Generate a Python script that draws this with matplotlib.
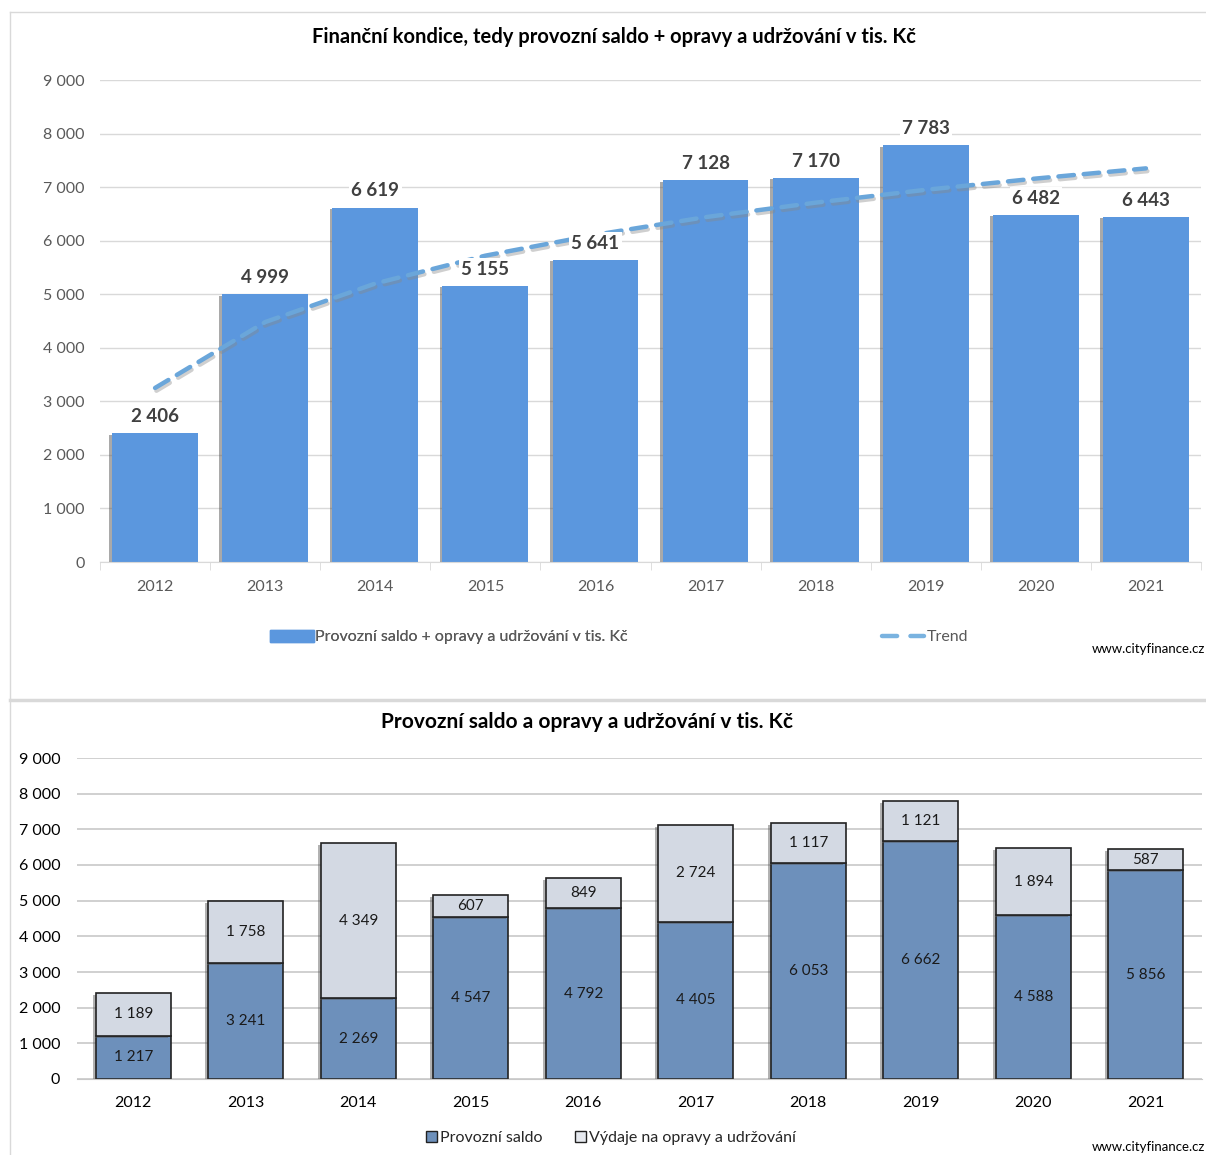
import matplotlib
matplotlib.use("Agg")
import matplotlib.pyplot as plt
import matplotlib.patheffects as pe
from matplotlib.lines import Line2D
from matplotlib.patches import Patch
import numpy as np

# ---------------------------------
# Data
# ---------------------------------
years = ["2012", "2013", "2014", "2015", "2016", "2017", "2018", "2019", "2020", "2021"]
kondice = [2406, 4999, 6619, 5155, 5641, 7128, 7170, 7783, 6482, 6443]
trend = [3250, 4480, 5200, 5720, 6110, 6440, 6710, 6950, 7160, 7350]

saldo = [1217, 3241, 2269, 4547, 4792, 4405, 6053, 6662, 4588, 5856]
opravy = [1189, 1758, 4349, 607, 849, 2724, 1117, 1121, 1894, 587]

yticks = [0, 1000, 2000, 3000, 4000, 5000, 6000, 7000, 8000, 9000]


def fmt(v):
    return f"{v:,}".replace(",", " ")


plt.rcParams.update({
    "font.family": ["Lato", "DejaVu Sans"],
    "axes.edgecolor": "#bfbfbf",
})

fig = plt.figure(figsize=(12.06, 11.55), dpi=100)
W, H = 1206, 1155


def box(l, t, r, b):
    return [l / W, 1 - b / H, (r - l) / W, (b - t) / H]


x = np.arange(len(years))

# ---------------------------------
# Top chart
# ---------------------------------
ax1 = fig.add_axes(box(100, 80, 1201, 562))
bars = ax1.bar(x, kondice, width=0.78, color="#5b97de", zorder=2)
for b in bars:
    b.set_path_effects([pe.SimplePatchShadow(offset=(-2, -1), shadow_rgbFace="#555555", alpha=0.5),
                        pe.Normal()])

ax1.plot(x, trend, color="#6aa6da", lw=3.2, dashes=(3.5, 2.2), dash_capstyle="round",
         zorder=3,
         path_effects=[pe.SimpleLineShadow(offset=(1, -2), shadow_color="#888888", alpha=0.4),
                       pe.Normal()])

for xi, v in zip(x, kondice):
    ax1.annotate(fmt(v), (xi, v), xytext=(0, 6), textcoords="offset points",
                 ha="center", va="bottom", fontsize=13.5, fontweight="bold",
                 color="#404040", zorder=5,
                 bbox=dict(boxstyle="square,pad=0.12", fc="white", ec="none"))

ax1.set_xlim(-0.5, len(years) - 0.5)
ax1.set_ylim(0, 9000)
ax1.set_yticks(yticks)
ax1.set_yticklabels([fmt(t) for t in yticks])
ax1.set_xticks(x)
ax1.set_xticklabels(years)
ax1.set_xticks(np.arange(-0.5, len(years)), minor=True)
ax1.tick_params(axis="x", which="major", length=0, pad=13, labelsize=11.5, labelcolor="#595959")
ax1.tick_params(axis="x", which="minor", length=6, color="#d9d9d9")
ax1.tick_params(axis="y", length=0, pad=11, labelsize=11.5, labelcolor="#595959")
ax1.grid(axis="y", color="#d9d9d9", lw=1, zorder=0)
ax1.set_axisbelow(True)
for s in ["top", "right", "left"]:
    ax1.spines[s].set_visible(False)
ax1.spines["bottom"].set_color("#d9d9d9")

fig.text(614 / W, 1 - 37 / H, "Finanční kondice, tedy provozní saldo + opravy a udržování v tis. Kč",
         ha="center", va="center", fontsize=14.5, fontweight="bold", color="#000000")

leg1 = fig.legend(handles=[Patch(color="#5b97de", label="Provozní saldo + opravy a udržování v tis. Kč")],
                  loc="center left", bbox_to_anchor=(256 / W, 1 - 637 / H), frameon=False,
                  fontsize=11.5, handlelength=2.7, handleheight=0.8, handletextpad=0.1,
                  labelcolor="#595959")
fig.legend(handles=[Line2D([], [], color="#7ab3e0", lw=3.2, dashes=(3.4, 3.0),
                           dash_capstyle="round", label="Trend")],
           loc="center left", bbox_to_anchor=(868 / W, 1 - 637 / H), frameon=False,
           fontsize=11.5, handlelength=2.6, handletextpad=0.2, labelcolor="#595959")
fig.add_artist(leg1)

fig.text(1205 / W, 1 - 649 / H, "www.cityfinance.cz", ha="right", va="center",
         fontsize=9.5, color="#000000")

# ---------------------------------
# Bottom chart
# ---------------------------------
ax2 = fig.add_axes(box(77, 758, 1202, 1079))
shadow = [pe.SimplePatchShadow(offset=(-2, -1.5), shadow_rgbFace="#555555", alpha=0.45), pe.Normal()]
b_low = ax2.bar(x, saldo, width=0.67, color="#6d90bb", edgecolor="#222222", lw=1.2, zorder=2)
b_up = ax2.bar(x, opravy, width=0.67, bottom=saldo, color="#d3d9e3", edgecolor="#222222", lw=1.2,
               zorder=2)
for b in list(b_low) + list(b_up):
    b.set_path_effects(shadow)

for xi, s, o in zip(x, saldo, opravy):
    ax2.text(xi, s / 2, fmt(s), ha="center", va="center", fontsize=11, color="#1a1a1a", zorder=4)
    ax2.text(xi, s + o / 2, fmt(o), ha="center", va="center", fontsize=11, color="#1a1a1a", zorder=4)

ax2.set_xlim(-0.5, len(years) - 0.5)
ax2.set_ylim(0, 9000)
ax2.set_yticks(yticks)
ax2.set_yticklabels([fmt(t) for t in yticks])
ax2.set_xticks(x)
ax2.set_xticklabels(years)
ax2.tick_params(axis="x", length=0, pad=12, labelsize=11.5, labelcolor="#000000")
ax2.tick_params(axis="y", length=0, pad=12, labelsize=11.5, labelcolor="#000000")
ax2.grid(axis="y", color="#c8c8c8", lw=1.2, zorder=0)
ax2.set_axisbelow(True)
for s in ["top", "right", "left"]:
    ax2.spines[s].set_visible(False)
ax2.spines["bottom"].set_color("#c8c8c8")

fig.text(587 / W, 1 - 722 / H, "Provozní saldo a opravy a udržování v tis. Kč",
         ha="center", va="center", fontsize=15, fontweight="bold", color="#000000")

fig.legend(handles=[Patch(fc="#6d90bb", ec="#222222", label="Provozní saldo"),
                    Patch(fc="#e6e9ef", ec="#222222", label="Výdaje na opravy a udržování")],
           loc="center", bbox_to_anchor=(611 / W, 1 - 1138 / H), ncol=2, frameon=False,
           fontsize=11.5, handlelength=0.7, handleheight=0.7, handletextpad=0.2,
           columnspacing=2.0, labelcolor="#262626")

fig.text(1205 / W, 1 - 1147 / H, "www.cityfinance.cz", ha="right", va="center",
         fontsize=9.5, color="#000000")

# ---------------------------------
# Frames
# ---------------------------------
fig.add_artist(Line2D([10 / W, 1], [1 - 12 / H, 1 - 12 / H], color="#d9d9d9", lw=1))
fig.add_artist(Line2D([10 / W, 10 / W], [1 - 12 / H, 1 - 699 / H], color="#d9d9d9", lw=1))
fig.add_artist(Line2D([10 / W, 1], [1 - 700 / H, 1 - 700 / H], color="#d9d9d9", lw=2.5))
fig.add_artist(Line2D([10 / W, 10 / W], [1 - 702 / H, 0], color="#d9d9d9", lw=1))

fig.savefig("out.png", dpi=100, facecolor="white")
